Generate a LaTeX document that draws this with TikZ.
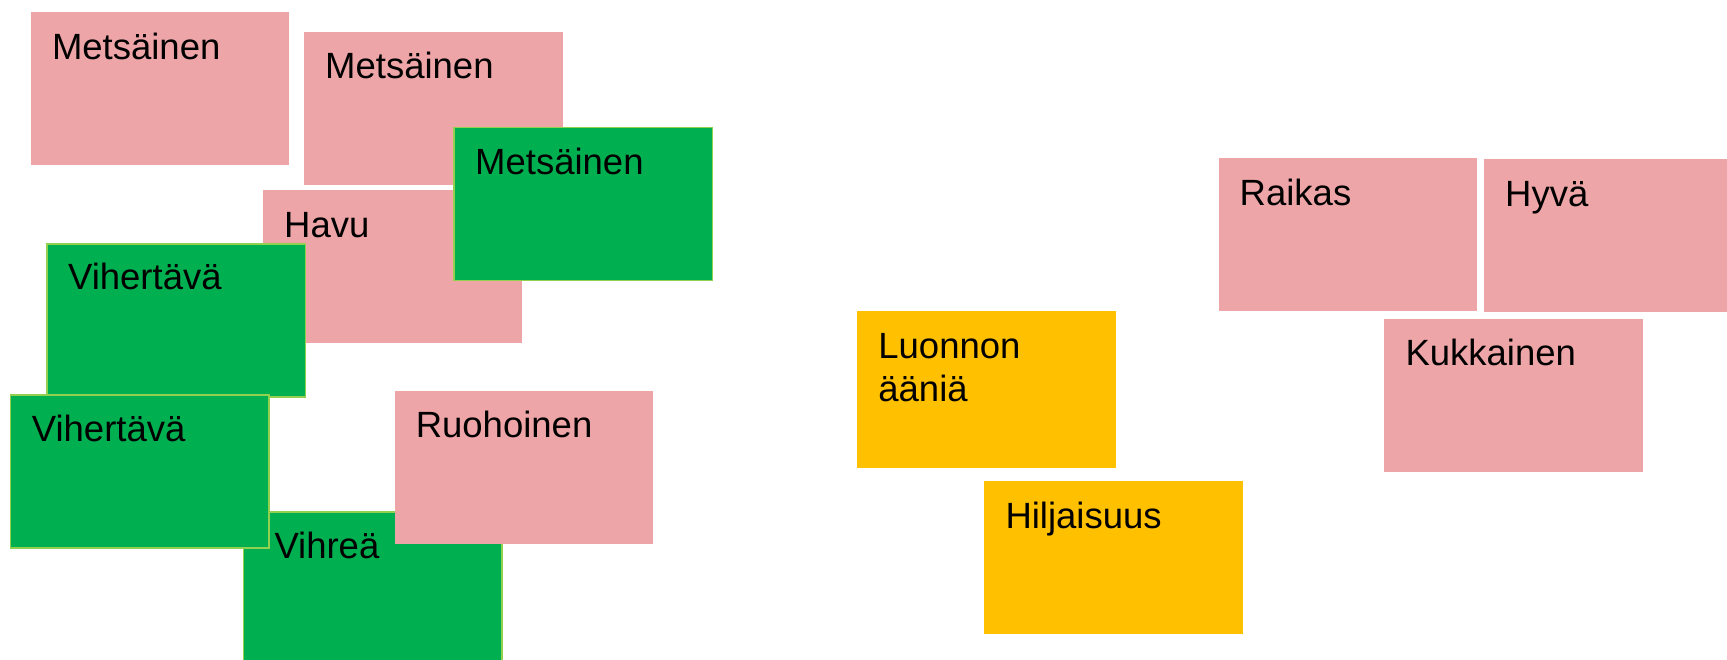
\documentclass[tikz,border=0pt]{standalone}
\usepackage{fontspec}
\setmainfont{Liberation Sans}
\definecolor{notepink}{RGB}{237,165,167}
\definecolor{notegreen}{RGB}{0,176,80}
\definecolor{noteedge}{RGB}{146,208,80}
\definecolor{noteyellow}{RGB}{255,192,0}
\tikzset{
  note/.style={anchor=north west, minimum width=258.5pt, minimum height=153pt, inner sep=0pt, outer sep=0pt},
  pinknote/.style={note, fill=notepink},
  greennote/.style={note, fill=notegreen, draw=noteedge, line width=1.5pt},
  yellownote/.style={note, fill=noteyellow},
  notetext/.style={anchor=base west, inner sep=0pt, align=left, font=\fontsize{36.5}{43.8}\selectfont, text=black}
}
\newcommand\sticky[7]{%
  \node[#2] (#1) at (#3,#4) {};
  \node[notetext] (#1t) at ([xshift=#6pt,yshift=-#7pt]#1.north west) {#5};
}
\begin{document}
\begin{tikzpicture}[x=1pt,y=-1pt]
\clip (0,0) rectangle (1727,659);
\fill[white] (0,0) rectangle (1727,659);
\sticky{m1}{pinknote}{30.8}{12.2}{Metsäinen}{21}{47}
\sticky{m2}{pinknote}{304}{31.9}{Metsäinen}{21}{47}
\sticky{havu}{pinknote}{263}{190.4}{Havu}{21}{47}
\sticky{m3}{greennote}{454}{127.4}{Metsäinen}{21}{47}
\sticky{v1}{greennote}{46.9}{243.8}{Vihertävä}{21}{46}
\sticky{vihrea}{greennote}{243.3}{512}{Vihreä}{31}{46}
\sticky{v2}{greennote}{10.7}{395.1}{Vihertävä}{21}{46}
\sticky{ruoho}{pinknote}{394.6}{390.5}{Ruohoinen}{21}{47}
\sticky{luonnon}{yellownote,minimum height=157pt}{857.2}{311}{Luonnon\\ääniä}{21}{90.8}
\sticky{hiljaisuus}{yellownote}{984.3}{481}{Hiljaisuus}{21}{47}
\sticky{raikas}{pinknote}{1218.5}{158}{Raikas}{21}{47}
\sticky{hyva}{pinknote}{1484}{159.3}{Hyvä}{21}{47}
\sticky{kukka}{pinknote}{1384.3}{319.3}{Kukkainen}{21}{46}
\end{tikzpicture}
\end{document}
